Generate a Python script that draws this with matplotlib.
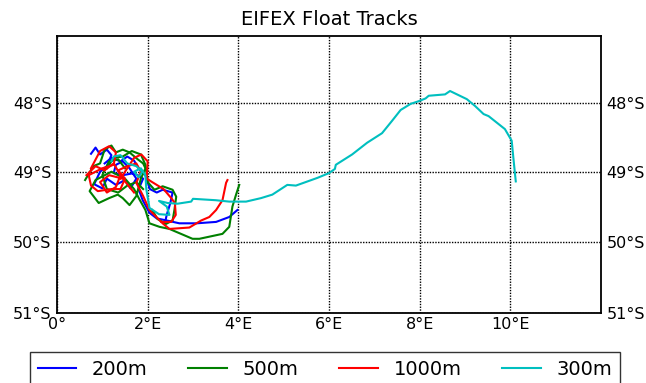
import numpy as np
import matplotlib
matplotlib.use("Agg")
import matplotlib.pyplot as plt

# ---- data (lon in degrees E, lat in degrees N; negative = S) ----
blue_a_lon = [0.75, 0.85, 0.95, 1.10, 1.20, 1.10, 0.95, 0.82, 1.00, 1.10, 1.30, 1.50, 1.62, 1.75, 1.60, 1.45,
              1.30, 1.25, 1.45, 1.70, 1.90, 1.80, 1.89, 2.04, 2.20, 2.42, 2.70, 3.08, 3.51, 3.80, 3.98]
blue_a_lat = [-48.74, -48.65, -48.75, -48.68, -48.76, -48.92, -49.00, -49.18, -49.24, -49.10, -49.19, -49.12,
              -49.24, -49.10, -48.95, -48.85, -48.90, -49.02, -49.05, -49.02, -49.10, -49.25, -49.41, -49.59,
              -49.67, -49.70, -49.74, -49.74, -49.72, -49.65, -49.55]
blue_b_lon = [1.05, 1.20, 1.40, 1.55, 1.70, 1.80, 1.95, 2.05, 2.20, 2.33, 2.55, 2.50, 2.42, 2.40]
blue_b_lat = [-48.88, -48.80, -48.85, -48.78, -48.84, -48.95, -49.05, -49.25, -49.30, -49.26, -49.30, -49.45,
              -49.62, -49.68]

green_a_lon = [0.62, 0.80, 0.95, 1.05, 1.20, 1.30, 1.45, 1.60, 1.78, 1.90, 1.95, 1.85, 1.75, 1.60, 1.45, 1.34,
               1.15, 0.92, 0.72, 0.85, 1.20, 1.50, 1.70, 1.82, 1.95, 2.04, 2.26, 2.48, 2.99, 3.14, 3.65, 3.80,
               3.87, 3.95, 4.02]
green_a_lat = [-49.12, -48.92, -48.88, -48.68, -48.62, -48.72, -48.68, -48.72, -48.82, -48.88, -48.95, -49.10,
               -49.35, -49.48, -49.38, -49.33, -49.38, -49.45, -49.28, -49.12, -49.00, -49.10, -49.25, -49.40,
               -49.55, -49.74, -49.79, -49.82, -49.96, -49.96, -49.89, -49.79, -49.50, -49.33, -49.19]
green_b_lon = [1.10, 1.25, 1.45, 1.65, 1.85, 1.95, 2.00, 2.15, 2.33, 2.55, 2.63, 2.59, 2.55, 2.40, 2.22, 2.10]
green_b_lat = [-48.95, -48.80, -48.78, -48.70, -48.75, -48.90, -49.15, -49.26, -49.21, -49.26, -49.36, -49.55,
               -49.70, -49.75, -49.68, -49.55]
green_c_lon = [1.50, 1.35, 1.15, 1.00, 1.10, 1.35, 1.55, 1.75, 1.90]
green_c_lat = [-48.95, -48.82, -48.85, -49.05, -49.25, -49.30, -49.20, -49.15, -49.25]

red_a_lon = [0.75, 0.95, 1.15, 1.30, 1.25, 1.00, 0.70, 0.75, 0.90, 1.20, 1.40, 1.50, 1.35, 1.55, 1.75, 1.85,
             1.75, 1.90, 2.04, 2.33, 2.48, 2.92, 3.18, 3.36, 3.51, 3.65, 3.73, 3.76]
red_a_lat = [-48.95, -48.70, -48.63, -48.72, -48.90, -48.95, -49.05, -49.20, -49.28, -49.25, -49.25, -49.10,
             -48.98, -48.92, -48.88, -49.00, -49.16, -49.35, -49.55, -49.74, -49.82, -49.80, -49.70, -49.65,
             -49.55, -49.41, -49.16, -49.12]
red_b_lon = [1.40, 1.55, 1.70, 1.86, 2.00, 1.98, 2.10, 2.35, 2.52, 2.60, 2.62, 2.52, 2.30]
red_b_lat = [-49.10, -48.95, -48.80, -48.75, -48.85, -49.10, -49.15, -49.25, -49.38, -49.45, -49.62, -49.72, -49.72]
red_c_lon = [0.65, 0.85, 1.05, 1.25, 1.40, 1.30, 1.10, 0.95, 1.15, 1.45, 1.70]
red_c_lat = [-49.05, -48.92, -48.98, -48.88, -49.05, -49.22, -49.30, -49.15, -49.05, -49.10, -49.30]

cyan_lon = [1.20, 1.25, 1.40, 1.55, 1.75, 1.88, 1.80, 1.70, 1.85, 1.95, 1.97, 2.04, 2.25, 2.48, 2.42, 2.25,
            2.44, 2.66, 2.96, 3.00, 3.50, 3.80, 4.17, 4.50, 4.75, 5.08, 5.27, 5.74, 6.00, 6.13, 6.15, 6.51,
            6.84, 7.17, 7.39, 7.58, 7.80, 7.98, 8.13, 8.20, 8.56, 8.67, 9.04, 9.22, 9.41, 9.52, 9.88, 10.03,
            10.07, 10.12]
cyan_lat = [-48.85, -48.78, -48.76, -48.88, -48.92, -49.00, -49.08, -49.00, -48.95, -49.05, -49.25, -49.52,
            -49.61, -49.62, -49.50, -49.42, -49.45, -49.46, -49.43, -49.39, -49.41, -49.43, -49.43, -49.38,
            -49.33, -49.19, -49.20, -49.09, -49.02, -48.96, -48.90, -48.75, -48.58, -48.44, -48.26, -48.10,
            -48.01, -47.97, -47.93, -47.89, -47.87, -47.82, -47.94, -48.04, -48.16, -48.19, -48.38, -48.55,
            -48.82, -49.14]

x_ticks = [0, 2, 4, 6, 8, 10]
x_labels = ["0°", "2°E", "4°E", "6°E", "8°E", "10°E"]
y_ticks = [-51, -50, -49, -48]
y_labels = ["51°S", "50°S", "49°S", "48°S"]
series_labels = ["200m", "500m", "1000m", "300m"]
series_colors = ["#0000ff", "#008000", "#ff0000", "#00bfbf"]


def merc(lat):
    lat = np.asarray(lat, dtype=float)
    return np.log(np.tan(np.pi / 4 + np.radians(lat) / 2))


def merc_inv(y):
    y = np.asarray(y, dtype=float)
    return np.degrees(2 * np.arctan(np.exp(y)) - np.pi / 2)


fig = plt.figure(figsize=(6.46, 3.83), dpi=100)
ax = fig.add_axes([57 / 646, 70 / 383, 544 / 646, 277 / 383])
ax.set_yscale("function", functions=(merc, merc_inv))
ax.set_xlim(0, 12)
ax.set_ylim(-51, -47)

tracks = [
    (0, blue_a_lon, blue_a_lat), (0, blue_b_lon, blue_b_lat),
    (1, green_a_lon, green_a_lat), (1, green_b_lon, green_b_lat), (1, green_c_lon, green_c_lat),
    (2, red_a_lon, red_a_lat), (2, red_b_lon, red_b_lat), (2, red_c_lon, red_c_lat),
    (3, cyan_lon, cyan_lat),
]
handles = {}
for idx, lon, lat in tracks:
    ln, = ax.plot(lon, lat, color=series_colors[idx], lw=1.5, zorder=3)
    handles.setdefault(idx, ln)

ax.set_xticks(x_ticks)
ax.set_xticklabels(x_labels)
ax.set_yticks(y_ticks)
ax.set_yticklabels(y_labels)
ax.minorticks_off()
ax.tick_params(axis="both", length=0, labelsize=11.5, pad=4)
ax.tick_params(axis="y", labelleft=True, labelright=True, pad=4)
ax.tick_params(axis="x", pad=3)
ax.grid(True, color="k", linestyle=(0, (1, 1)), linewidth=1.0, zorder=1)
for s in ax.spines.values():
    s.set_linewidth(1.3)
    s.set_color("black")

ax.set_title("EIFEX Float Tracks", fontsize=14, pad=8)

leg = ax.legend([handles[i] for i in range(4)], series_labels, ncol=4, mode="expand",
                loc="upper left", bbox_to_anchor=(-0.05, -0.141, 1.085, 0),
                fontsize=14, frameon=True, fancybox=False, edgecolor="black",
                borderaxespad=0.0, handlelength=2.0)
leg.get_frame().set_linewidth(1.0)

fig.savefig("out.png", dpi=100)
